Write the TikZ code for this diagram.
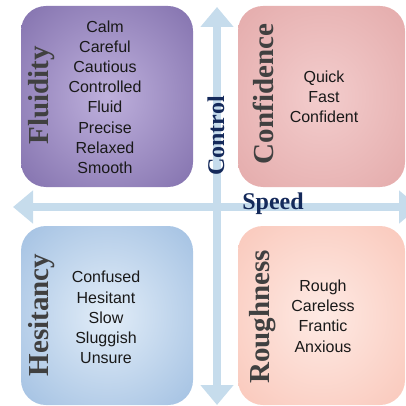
\documentclass[tikz,border=0pt]{standalone}
\usepackage{fontspec}
\setmainfont{Liberation Serif}
\newfontfamily\itemfont{Liberation Sans}
\usetikzlibrary{arrows.meta}
\definecolor{arrowblue}{HTML}{C6DCEC}
\definecolor{navy}{HTML}{14295A}
\definecolor{labgray}{HTML}{404040}
\definecolor{fluin}{HTML}{BEB0DC}
\definecolor{fluout}{HTML}{58448C}
\definecolor{conin}{HTML}{F3CDCD}
\definecolor{conout}{HTML}{D99292}
\definecolor{hesin}{HTML}{E2EDF8}
\definecolor{hesout}{HTML}{74A0D2}
\definecolor{rouin}{HTML}{FEEAE4}
\definecolor{rouout}{HTML}{F6AF9D}
\pgfdeclareradialshading{flushade}{\pgfpointorigin}{color(0bp)=(fluin); color(62bp)=(fluout); color(75bp)=(fluout)}
\pgfdeclareradialshading{conshade}{\pgfpointorigin}{color(0bp)=(conin); color(62bp)=(conout); color(75bp)=(conout)}
\pgfdeclareradialshading{hesshade}{\pgfpointorigin}{color(0bp)=(hesin); color(62bp)=(hesout); color(75bp)=(hesout)}
\pgfdeclareradialshading{roushade}{\pgfpointorigin}{color(0bp)=(rouin); color(62bp)=(rouout); color(75bp)=(rouout)}
\tikzset{
  quadbox/.style={rectangle, rounded corners=25pt, inner sep=0pt},
  quadlabel/.style={rotate=90, inner sep=0pt, text=labgray, font=\fontsize{29}{30}\selectfont\bfseries},
  axislabel/.style={inner sep=0pt, text=navy, font=\fontsize{24}{26}\selectfont\bfseries},
  items/.style={inner sep=0pt, align=center, text=black!90, font=\itemfont\fontsize{16}{20.2}\selectfont},
  axis/.style={draw=arrowblue, line width=8pt, arrows={Triangle[width=32pt,length=20pt,fill=arrowblue]-Triangle[width=32pt,length=20pt,fill=arrowblue]}}
}
\begin{document}
\begin{tikzpicture}[x=1pt,y=-1pt]
\useasboundingbox (0,0) rectangle (406,406);
\clip (0,0) rectangle (406,406);
% axes
\coordinate (vtop) at (217,7);
\coordinate (vbot) at (217,405);
\coordinate (hleft) at (13,207);
\coordinate (hright) at (419,207);
\draw[axis] (vtop) -- (vbot);
\draw[axis] (hleft) -- (hright);
% boxes
\node[quadbox, shade, shading=flushade, minimum width=172pt, minimum height=181pt] (flu) at (107,96.5) {};
\node[quadbox, shade, shading=conshade, minimum width=167pt, minimum height=181pt] (con) at (321.5,96.5) {};
\node[quadbox, shade, shading=hesshade, minimum width=172pt, minimum height=179pt] (hes) at (107,315.5) {};
\node[quadbox, shade, shading=roushade, minimum width=167pt, minimum height=179pt] (rou) at (321.5,315.5) {};
% quadrant labels
\node[quadlabel] (flul) at (42,95.5) {Fluidity};
\node[quadlabel] (conl) at (263,94) {Confidence};
\node[quadlabel] (hesl) at (42,315) {Hesitancy};
\node[quadlabel] (roul) at (263,317) {Roughness};
% items
\node[items] (flui) at (105,97) {Calm\\Careful\\Cautious\\Controlled\\Fluid\\Precise\\Relaxed\\Smooth};
\node[items] (coni) at (324,97) {Quick\\Fast\\Confident};
\node[items] (hesi) at (106,317.5) {Confused\\Hesitant\\Slow\\Sluggish\\Unsure};
\node[items] (roui) at (323,316) {Rough\\Careless\\Frantic\\Anxious};
% axis labels
\node[axislabel, rotate=90] (ctrl) at (216,136) {Control};
\node[axislabel] (spd) at (273,204) {Speed};
\end{tikzpicture}
\end{document}
